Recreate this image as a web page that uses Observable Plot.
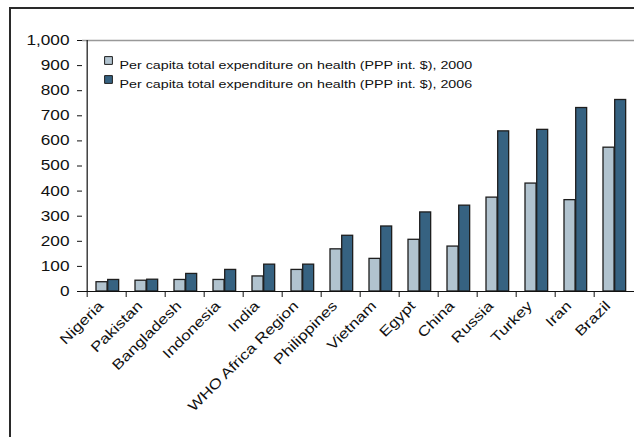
<!DOCTYPE html>
<html>
<head>
<meta charset="utf-8">
<script src="https://cdn.jsdelivr.net/npm/d3@7"></script>
<script src="https://cdn.jsdelivr.net/npm/@observablehq/plot@0.6"></script>
<style>
  html, body { margin: 0; padding: 0; background: #fff; overflow: hidden; }
  #wrap { position: relative; width: 634px; height: 437px; overflow: hidden; }
  #border { position: absolute; left: 9px; top: 7px; width: 625px; height: 430px; border-left: 2px solid #2a2a2a; border-top: 2px solid #2a2a2a; box-sizing: border-box; pointer-events: none; }
  #chart { position: absolute; left: 0; top: 0; }
</style>
</head>
<body>
<div id="wrap"><div id="chart"></div><div id="border"></div></div>
<script>
const countries = ["Nigeria", "Pakistan", "Bangladesh", "Indonesia", "India", "WHO Africa Region", "Philippines", "Vietnam", "Egypt", "China", "Russia", "Turkey", "Iran", "Brazil"];
const exp2000 = [37, 43, 46, 46, 60, 86, 168, 130, 206, 179, 374, 430, 364, 573];
const exp2006 = [46, 47, 70, 86, 107, 107, 222, 259, 315, 342, 638, 644, 731, 763];
const seriesLabels = ["Per capita total expenditure on health (PPP int. $), 2000", "Per capita total expenditure on health (PPP int. $), 2006"];
const seriesColors = ["#b1c3cf", "#366281"];
const yTicks = [0, 100, 200, 300, 400, 500, 600, 700, 800, 900, 1000];

const W = 634, H = 437, ML = 82, MR = -3, MT = 40, MB = 146;
const step = (W - ML - MR) / countries.length;
const rows2000 = countries.map((c, i) => ({country: c, value: exp2000[i]}));
const rows2006 = countries.map((c, i) => ({country: c, value: exp2006[i]}));
const font = "'Liberation Sans', Arial, sans-serif";

const svg = Plot.plot({
  width: W, height: H,
  marginLeft: ML, marginRight: MR, marginTop: MT, marginBottom: MB,
  style: {fontFamily: font, fontSize: "14px", color: "#111", background: "transparent", overflow: "hidden"},
  x: {type: "band", domain: countries, padding: 0, label: null},
  y: {domain: [0, 1000], label: null},
  marks: [
    Plot.ruleY([1000], {stroke: "#999", strokeWidth: 1.5}),
    Plot.barY(rows2000, {x: "country", y: "value", fill: seriesColors[0], stroke: "#1e1e1e", strokeWidth: 1.3, insetLeft: 9, insetRight: step - 20.7}),
    Plot.barY(rows2006, {x: "country", y: "value", fill: seriesColors[1], stroke: "#1e1e1e", strokeWidth: 1.3, insetLeft: 20.7, insetRight: step - 32.3}),
    Plot.ruleY([0], {stroke: "#111", strokeWidth: 1.2}),
    Plot.ruleX([countries[0]], {dx: -step / 2, stroke: "#111", strokeWidth: 1.2}),
    Plot.axisY({ticks: yTicks, tickFormat: d3.format(","), tickSize: 5, tickPadding: 8, fontSize: 14, stroke: "#111"}),
    Plot.axisX({tickSize: 6, tickFormat: () => "", dx: -step / 2, stroke: "#111"}),
    Plot.axisX({tickSize: 0, tickRotate: -45, tickPadding: 12, fontSize: 14, dx: -6}),
    ...seriesLabels.map((s, i) => Plot.dot([s], {frameAnchor: "top-left", dx: 26, dy: 20 + i * 19, symbol: "square", r: 4.4, fill: seriesColors[i], stroke: "#1e1e1e", strokeWidth: 1})),
    ...seriesLabels.map((s, i) => Plot.text([s], {text: d => d, frameAnchor: "top-left", dx: 37, dy: 20 + i * 19, textAnchor: "start", fontSize: 11.6, fill: "#111"}))
  ]
});

// widen glyphs horizontally (the reference font is rendered wide)
svg.querySelectorAll("text").forEach(t => {
  const tr = t.getAttribute("transform");
  if (tr) {
    t.setAttribute("transform", tr + " scale(1.23,1)");
  } else {
    const x = +(t.getAttribute("x") || 0), y = +(t.getAttribute("y") || 0);
    t.removeAttribute("x"); t.removeAttribute("y");
    t.setAttribute("transform", `translate(${x},${y}) scale(1.23,1)`);
  }
});
document.getElementById("chart").appendChild(svg);
</script>
</body>
</html>
